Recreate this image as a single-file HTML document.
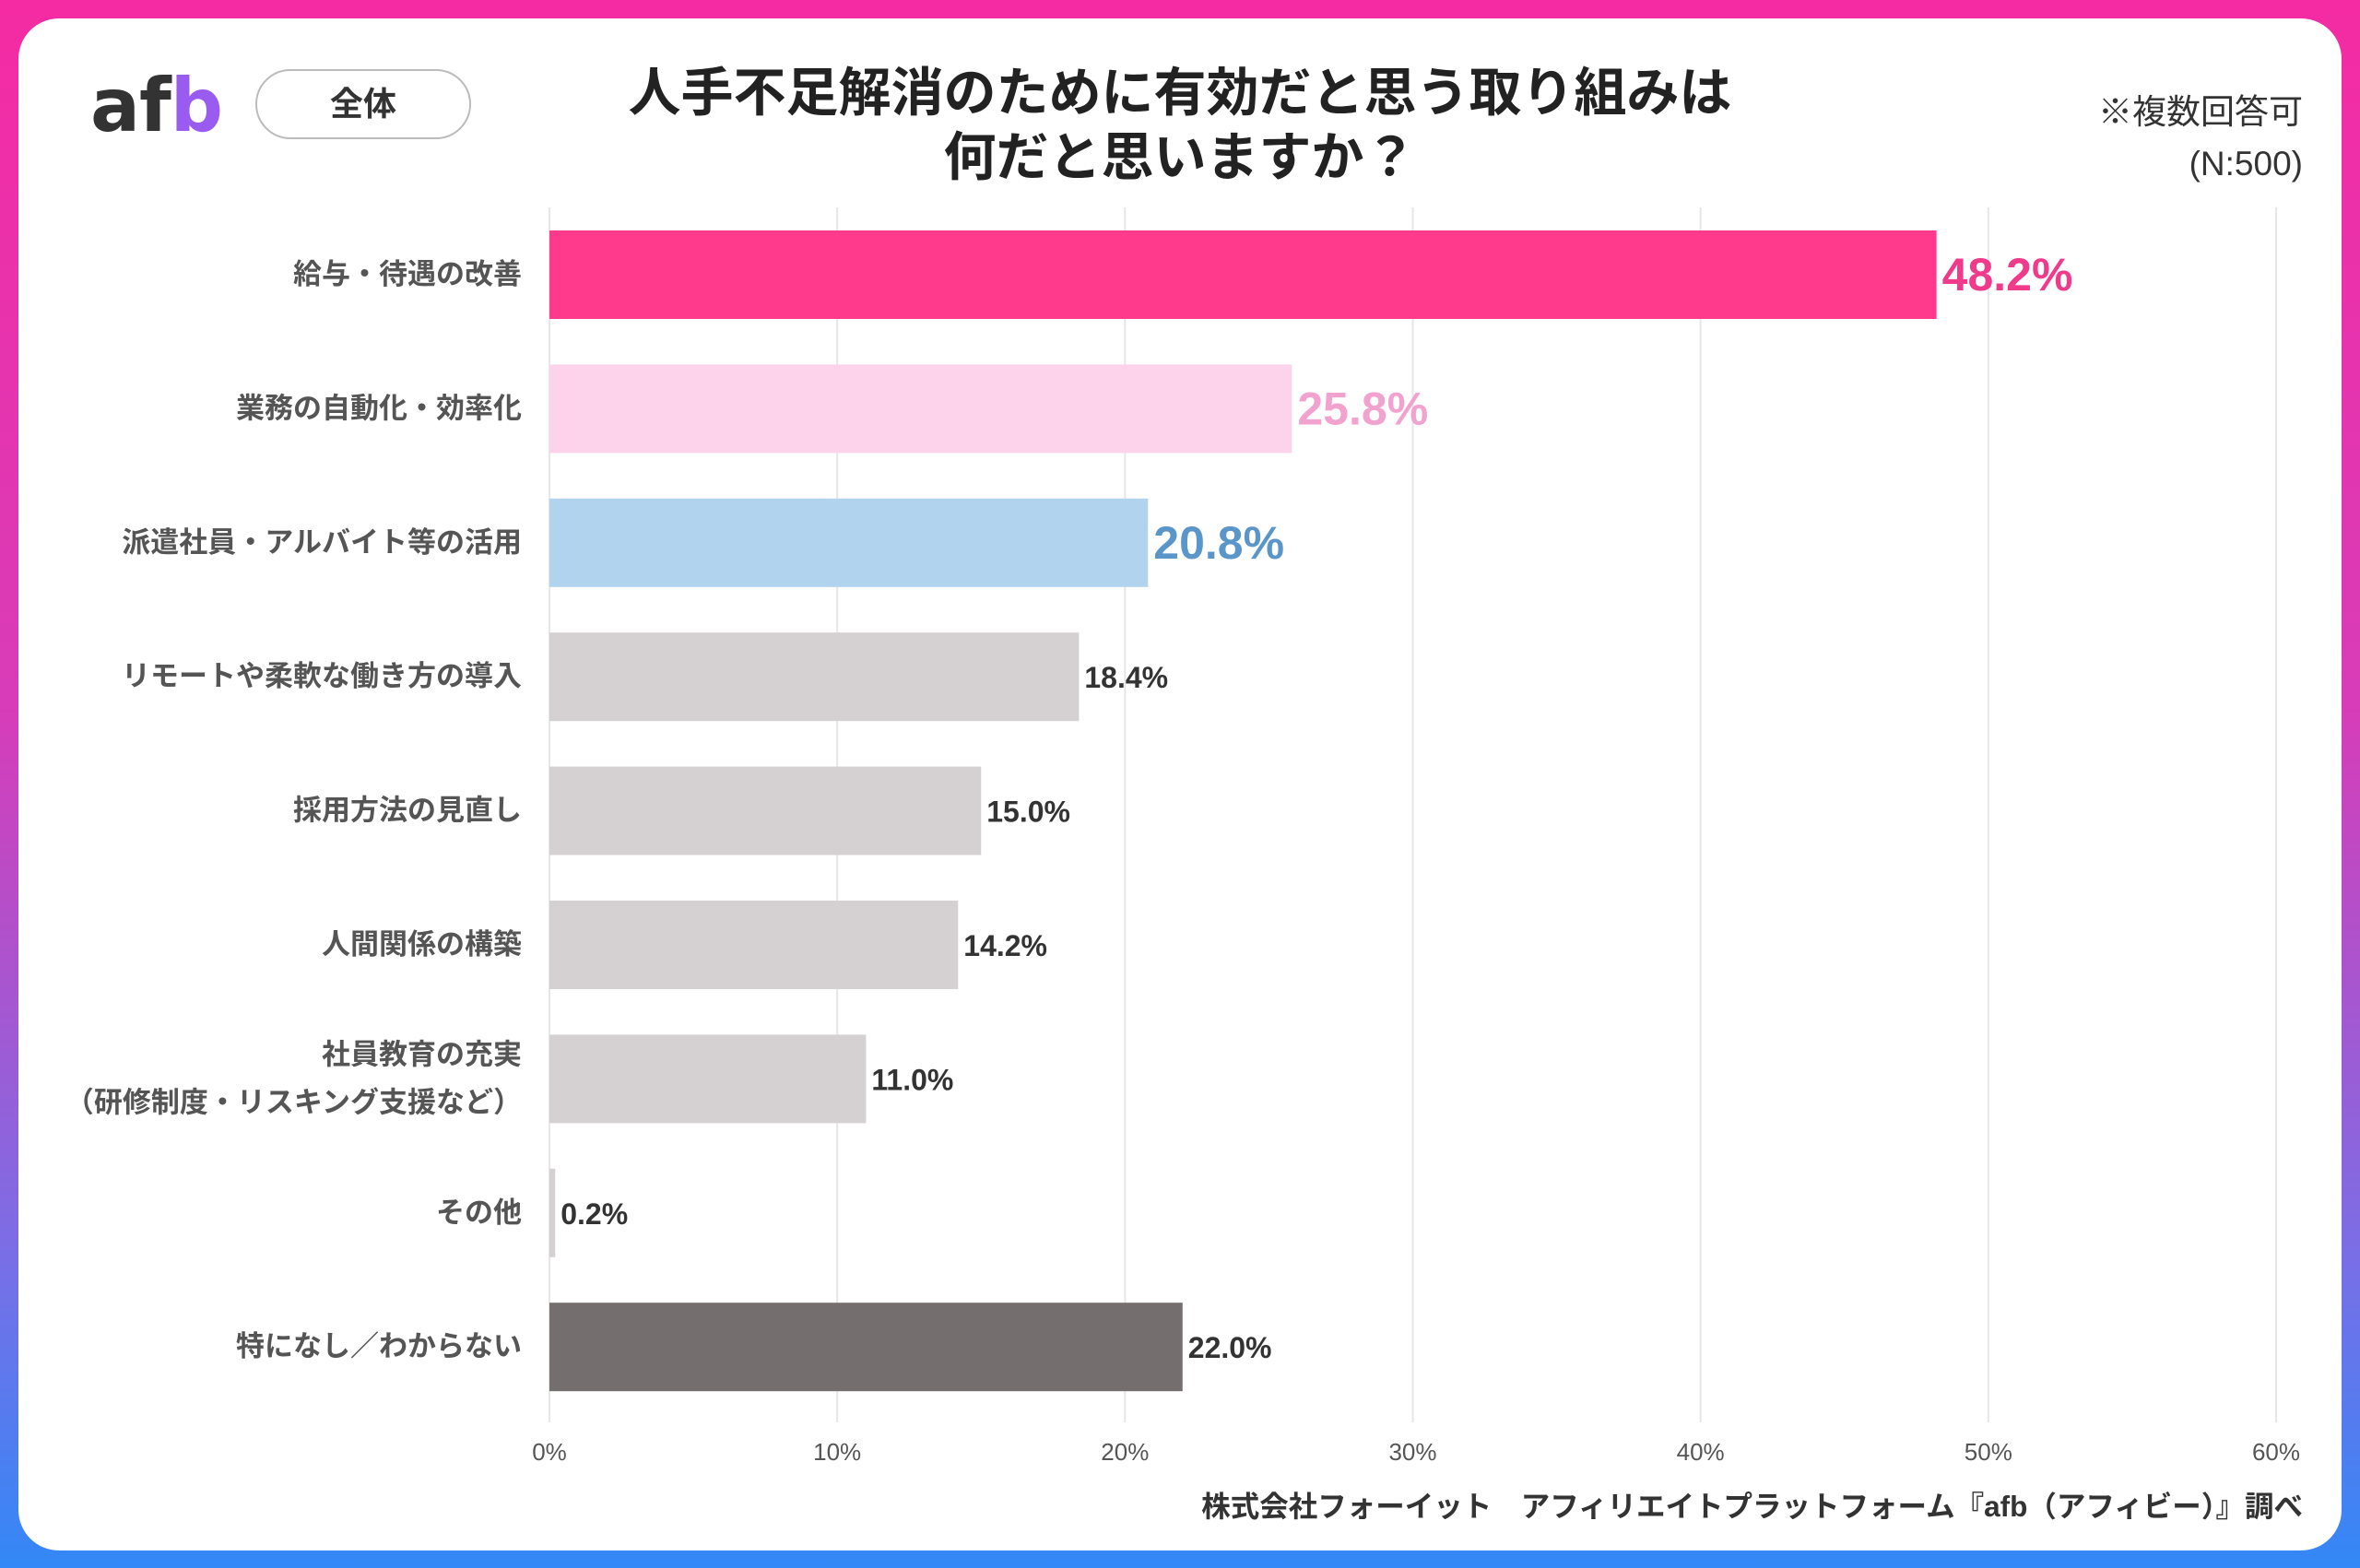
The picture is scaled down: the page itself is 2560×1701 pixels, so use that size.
<!DOCTYPE html>
<html><head><meta charset="utf-8"><style>
html,body{margin:0;padding:0}
body{width:2560px;height:1701px;position:relative;overflow:hidden;background:linear-gradient(180deg,#f52ba3 0%,#d83cb8 45%,#7a6ee6 80%,#3388f7 100%);font-family:"Liberation Sans","Noto Sans CJK JP",sans-serif}
#card{position:absolute;left:20px;top:20px;width:2520px;height:1662px;background:#fff;border-radius:44px}
.t{position:absolute;white-space:nowrap}
</style></head><body>
<div id="card"></div>
<div class="t" style="left:98px;top:68px;font-size:80px;font-weight:bold;color:#333;letter-spacing:-1px;font-family:'DejaVu Sans',sans-serif">af<span style="color:#9a5cf0">b</span></div>
<div style="position:absolute;left:277px;top:75px;width:234px;height:76px;border:2px solid #bbb;border-radius:40px;box-sizing:border-box;text-align:center;line-height:72px;font-size:36px;font-weight:bold;color:#333;font-family:'Liberation Sans','Noto Sans CJK JP',sans-serif">全体</div>
<div class="t" style="left:0;width:2560px;top:66px;text-align:center;font-size:57px;font-weight:bold;color:#222;line-height:70px">人手不足解消のために有効だと思う取り組みは<br>何だと思いますか？</div>
<div class="t" style="right:62px;top:94px;font-size:37px;color:#333;text-align:right;line-height:56px">※複数回答可<br>(N:500)</div>
<svg id="chart" width="2560" height="1701" style="position:absolute;left:0;top:0"></svg>
<div class="t" style="right:62px;top:1609px;font-size:31.5px;font-weight:bold;color:#333">株式会社フォーイット　アフィリエイトプラットフォーム『afb（アフィビー）』調べ</div>
<script>
const categories=["給与・待遇の改善","業務の自動化・効率化","派遣社員・アルバイト等の活用","リモートや柔軟な働き方の導入","採用方法の見直し","人間関係の構築","社員教育の充実\n（研修制度・リスキング支援など）","その他","特になし／わからない"];
const values=[48.2,25.8,20.8,18.4,15.0,14.2,11.0,0.2,22.0];
const ticks=[0,10,20,30,40,50,60];
const barColors=["#ff3a8c","#fdd3ec","#b1d3ee","#d5d1d2","#d5d1d2","#d5d1d2","#d5d1d2","#d5d1d2","#746f6e"];
const labelColors=["#f03a8a","#f2a2cf","#5b96cb","#333","#333","#333","#333","#333","#333"];
const NS="http://www.w3.org/2000/svg",svg=document.getElementById('chart');
const x=v=>596+(2469-596)*v/60, yc=i=>298+i*145.4, bh=96;
function mk(t,a){const e=document.createElementNS(NS,t);for(const k in a)e.setAttribute(k,a[k]);svg.appendChild(e);return e;}
ticks.forEach(t=>{const g=mk('line',{x1:x(t),x2:x(t),y1:225,y2:1543,stroke:'#e6e6e6','stroke-width':2});


const l=mk('text',{x:x(t),y:1584,'text-anchor':'middle','font-size':26,fill:'#555'});l.textContent=t+'%';

});
values.forEach((v,i)=>{const w=Math.max(x(v)-x(0),4);
const r=mk('rect',{x:x(0),y:yc(i)-bh/2,width:w,height:bh,fill:barColors[i]});


const big=i<3;const t=mk('text',{x:x(0)+w+6,y:yc(i)+(big?17:12),'font-size':big?50:32,'font-weight':'bold',fill:labelColors[i]});
t.textContent=v.toFixed(1)+'%';


const lines=categories[i].split('\n');
lines.forEach((s,j)=>{const c=mk('text',{x:566,y:yc(i)+10+(j-(lines.length-1)/2)*52,'text-anchor':'end','font-size':31,'font-weight':'bold',fill:'#555'});
c.textContent=s;

});
});
</script>
</body></html>
